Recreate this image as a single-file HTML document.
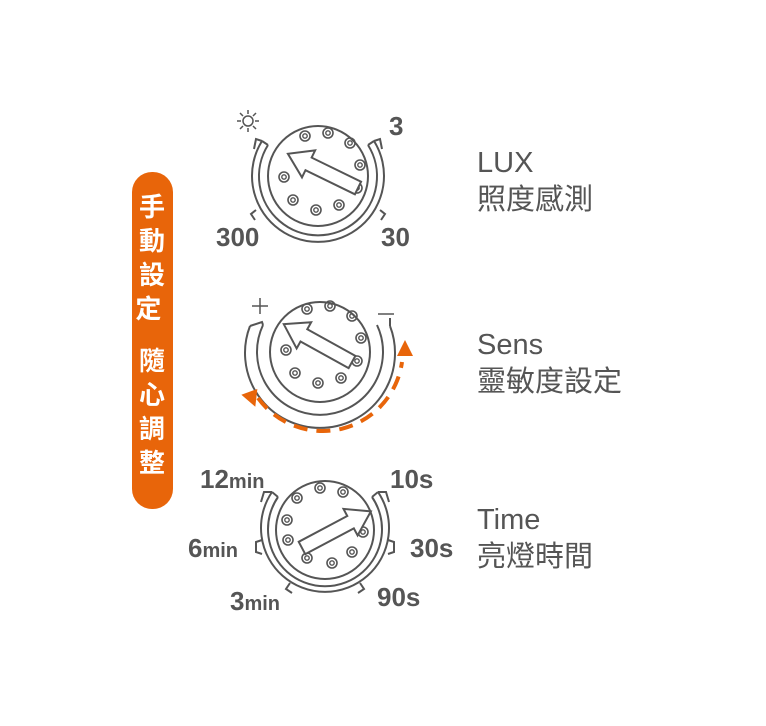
<!DOCTYPE html>
<html><head><meta charset="utf-8"><style>
body{margin:0;background:#fff;width:766px;height:726px;overflow:hidden}
svg{display:block}
.t{font-family:"Liberation Sans","Noto Sans CJK TC",sans-serif;fill:#555}
.b{font-weight:bold}
</style></head><body>
<svg width="766" height="726" viewBox="0 0 766 726">
<defs>
<g id="dot"><circle r="5" fill="none" stroke="#555" stroke-width="1.6"/><circle r="2.2" fill="none" stroke="#555" stroke-width="1.4"/></g>
<polygon id="arr" points="0,-7 55,-7 55,-15 78,0 55,15 55,7 0,7" fill="#fff" stroke="#555" stroke-width="2" stroke-linejoin="miter"/>
</defs>
<rect x="132" y="172" width="41" height="337" rx="20" fill="#e8650a"/>
<text class="b" font-family="Liberation Sans,'Noto Sans CJK TC',sans-serif" font-size="26" fill="#fff" text-anchor="middle">
<tspan x="152" y="216">手</tspan><tspan x="152" y="250">動</tspan><tspan x="152" y="284">設</tspan><tspan x="152" y="318">定</tspan>
<tspan x="152" y="370">隨</tspan><tspan x="152" y="404">心</tspan><tspan x="152" y="438">調</tspan><tspan x="152" y="472">整</tspan></text>

<g fill="none" stroke="#555" stroke-width="2">
<!-- dial 1 -->
<circle cx="318" cy="176" r="50"/>
<path d="M268,145 A59,59 0 1 0 368,145"/>
<path d="M262,141 A66,66 0 1 0 374,141"/>
<path d="M262,141 l-6,-2 l-2,10 M374,141 l6,-2 l2,10 M268,145 l-6,-4 M368,145 l6,-4"/>
<path d="M256,210 l-5,4 l4,6 M380,210 l5,4 l-4,6"/>
<!-- dial 2 -->
<circle cx="320" cy="352" r="50"/>
<path d="M263,325 A63,63 0 1 0 377,325"/>
<path d="M250,326 A75,75 0 1 0 390,326"/>
<path d="M250,326 l12,-4 l1,3 M390,326 l0,-8"/>
<!-- dial 3 -->
<circle cx="325" cy="530" r="49"/>
<path d="M278,497 A57,57 0 1 0 372,497"/>
<path d="M272,492 A64,64 0 1 0 378,492"/>
<path d="M272,492 l-8,0 l-3,10 M378,492 l8,0 l3,10 M278,497 l-6,-5 M372,497 l6,-5"/>
<path d="M262,540 l-6,2 l0,10 l6,2 M388,540 l6,2 l0,10 l-6,2 M290,583 l-4,6 l6,4 M360,583 l4,6 l-6,4"/>
</g>
<g>
<use href="#dot" x="305" y="136"/><use href="#dot" x="328" y="133"/><use href="#dot" x="350" y="143"/><use href="#dot" x="360" y="165"/><use href="#dot" x="357" y="188"/><use href="#dot" x="339" y="205"/><use href="#dot" x="316" y="210"/><use href="#dot" x="293" y="200"/><use href="#dot" x="284" y="177"/>
<use href="#dot" x="307" y="309"/><use href="#dot" x="330" y="306"/><use href="#dot" x="352" y="316"/><use href="#dot" x="361" y="338"/><use href="#dot" x="357" y="361"/><use href="#dot" x="341" y="378"/><use href="#dot" x="318" y="383"/><use href="#dot" x="295" y="373"/><use href="#dot" x="286" y="350"/>
<use href="#dot" x="297" y="498"/><use href="#dot" x="320" y="488"/><use href="#dot" x="343" y="492"/><use href="#dot" x="287" y="520"/><use href="#dot" x="288" y="540"/><use href="#dot" x="307" y="558"/><use href="#dot" x="332" y="563"/><use href="#dot" x="352" y="552"/><use href="#dot" x="363" y="532"/>
<use href="#arr" transform="translate(358,188) rotate(206)"/>
<use href="#arr" transform="translate(352,362) rotate(209)"/>
<use href="#arr" transform="translate(302,548) rotate(-28)"/>
</g>
<!-- orange dashed -->
<path d="M258,398 A80,80 0 0 0 402,362" fill="none" stroke="#e8650a" stroke-width="4" stroke-dasharray="14,9"/>
<polygon points="243,392 260,392 252,408" fill="#e8650a" transform="rotate(-20 250 398)"/>
<polygon points="405,340 397,356 413,356" fill="#e8650a"/>
<g fill="none" stroke="#555" stroke-width="1.5">
<path d="M252,306 h16 M260,298 v16"/><path d="M378,314 h16"/>
<circle cx="248" cy="121" r="5"/>
<path d="M248,110v4M248,128v4M237,121h4M255,121h4M240,113l3,3M253,126l3,3M256,113l-3,3M243,126l-3,3"/>
</g>
<g class="t b" font-size="26">
<text x="389" y="135">3</text>
<text x="216" y="246">300</text>
<text x="381" y="246">30</text>
<text x="200" y="488">12<tspan font-size="20">min</tspan></text>
<text x="390" y="488">10s</text>
<text x="188" y="557">6<tspan font-size="20">min</tspan></text>
<text x="410" y="557">30s</text>
<text x="230" y="610">3<tspan font-size="20">min</tspan></text>
<text x="377" y="606">90s</text>
</g>
<g class="t" font-size="29">
<text x="477" y="172">LUX</text>
<text x="477" y="209">照度感測</text>
<text x="477" y="354">Sens</text>
<text x="477" y="391">靈敏度設定</text>
<text x="477" y="529">Time</text>
<text x="477" y="566">亮燈時間</text>
</g>
</svg>
</body></html>
